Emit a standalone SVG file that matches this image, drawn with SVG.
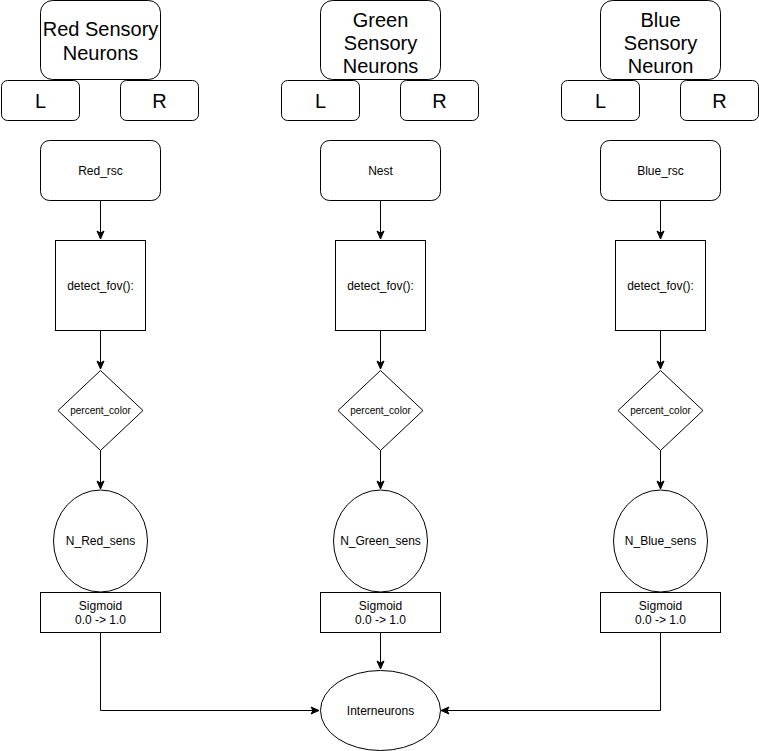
<svg xmlns="http://www.w3.org/2000/svg" width="759" height="751" viewBox="0 0 759 751">
<style>
.n{fill:#fff;stroke:#000;stroke-width:1}
.t{font-family:"Liberation Sans",Arial,sans-serif;fill:#000;text-anchor:middle}
.big{font-size:20px}
.s{font-size:12px}
.xs{font-size:10px}
.c{fill:none;stroke:#000;stroke-width:1}
</style>
<defs>
<marker id="ah" markerUnits="userSpaceOnUse" markerWidth="10" markerHeight="10" viewBox="0 0 10 10" refX="9" refY="5" orient="auto">
<path d="M1,1.5 L9,5 L1,8.5 L3,5 Z" fill="#000" stroke="#000" stroke-width="1" stroke-linejoin="miter"/>
</marker>
</defs>
<rect width="759" height="751" fill="#fff"/>
<g id="connectors">
<path class="c" d="M100.5,200 V239" marker-end="url(#ah)"/>
<path class="c" d="M100.5,330 V369" marker-end="url(#ah)"/>
<path class="c" d="M100.5,450 V489" marker-end="url(#ah)"/>
<path class="c" d="M380.5,200 V239" marker-end="url(#ah)"/>
<path class="c" d="M380.5,330 V369" marker-end="url(#ah)"/>
<path class="c" d="M380.5,450 V489" marker-end="url(#ah)"/>
<path class="c" d="M660.5,200 V239" marker-end="url(#ah)"/>
<path class="c" d="M660.5,330 V369" marker-end="url(#ah)"/>
<path class="c" d="M660.5,450 V489" marker-end="url(#ah)"/>
<path class="c" d="M100.5,632 V710.5 H319" marker-end="url(#ah)"/>
<path class="c" d="M380.5,632 V669" marker-end="url(#ah)"/>
<path class="c" d="M660.5,632 V710.5 H441" marker-end="url(#ah)"/>
</g>
<g id="red-sensory-neurons"><rect class="n" x="40.5" y="0.5" width="120" height="79" rx="12"/><text class="t big" x="100.5" y="36">Red Sensory</text><text class="t big" x="100.5" y="60">Neurons</text></g>
<g id="red-L"><rect class="n" x="1.5" y="80.5" width="78" height="40" rx="6"/><text class="t big" x="40.5" y="108">L</text></g>
<g id="red-R"><rect class="n" x="120.5" y="80.5" width="78" height="40" rx="6"/><text class="t big" x="159.5" y="108">R</text></g>
<g id="red-rsc"><rect class="n" x="40.5" y="140.5" width="120" height="60" rx="9"/><text class="t s" x="100.5" y="174.5">Red_rsc</text></g>
<g id="red-detect"><rect class="n" x="55.5" y="240.5" width="90" height="90"/><text class="t s" x="100.5" y="289.5">detect_fov():</text></g>
<g id="red-percent"><path class="n" d="M100.5,370.5 L143,410.5 L100.5,450.5 L58,410.5 Z"/><text class="t xs" x="100.5" y="414">percent_color</text></g>
<g id="red-n"><ellipse class="n" cx="100.5" cy="541" rx="47" ry="51"/><text class="t s" x="100.5" y="545">N_Red_sens</text></g>
<g id="red-sigmoid"><rect class="n" x="40.5" y="592.5" width="120" height="40"/><text class="t s" x="100.5" y="610">Sigmoid</text><text class="t s" x="100.5" y="624">0.0 -&gt; 1.0</text></g>
<g id="green-sensory-neurons"><rect class="n" x="320.5" y="0.5" width="120" height="79" rx="12"/><text class="t big" x="380.5" y="27">Green</text><text class="t big" x="380.5" y="50">Sensory</text><text class="t big" x="380.5" y="73">Neurons</text></g>
<g id="green-L"><rect class="n" x="281.5" y="80.5" width="78" height="40" rx="6"/><text class="t big" x="320.5" y="108">L</text></g>
<g id="green-R"><rect class="n" x="400.5" y="80.5" width="78" height="40" rx="6"/><text class="t big" x="439.5" y="108">R</text></g>
<g id="nest"><rect class="n" x="320.5" y="140.5" width="120" height="60" rx="9"/><text class="t s" x="380.5" y="174.5">Nest</text></g>
<g id="green-detect"><rect class="n" x="335.5" y="240.5" width="90" height="90"/><text class="t s" x="380.5" y="289.5">detect_fov():</text></g>
<g id="green-percent"><path class="n" d="M380.5,370.5 L423,410.5 L380.5,450.5 L338,410.5 Z"/><text class="t xs" x="380.5" y="414">percent_color</text></g>
<g id="green-n"><ellipse class="n" cx="380.5" cy="541" rx="47" ry="51"/><text class="t s" x="380.5" y="545">N_Green_sens</text></g>
<g id="green-sigmoid"><rect class="n" x="320.5" y="592.5" width="120" height="40"/><text class="t s" x="380.5" y="610">Sigmoid</text><text class="t s" x="380.5" y="624">0.0 -&gt; 1.0</text></g>
<g id="blue-sensory-neuron"><rect class="n" x="600.5" y="0.5" width="120" height="79" rx="12"/><text class="t big" x="660.5" y="27">Blue</text><text class="t big" x="660.5" y="50">Sensory</text><text class="t big" x="660.5" y="73">Neuron</text></g>
<g id="blue-L"><rect class="n" x="561.5" y="80.5" width="78" height="40" rx="6"/><text class="t big" x="600.5" y="108">L</text></g>
<g id="blue-R"><rect class="n" x="680.5" y="80.5" width="78" height="40" rx="6"/><text class="t big" x="719.5" y="108">R</text></g>
<g id="blue-rsc"><rect class="n" x="600.5" y="140.5" width="120" height="60" rx="9"/><text class="t s" x="660.5" y="174.5">Blue_rsc</text></g>
<g id="blue-detect"><rect class="n" x="615.5" y="240.5" width="90" height="90"/><text class="t s" x="660.5" y="289.5">detect_fov():</text></g>
<g id="blue-percent"><path class="n" d="M660.5,370.5 L703,410.5 L660.5,450.5 L618,410.5 Z"/><text class="t xs" x="660.5" y="414">percent_color</text></g>
<g id="blue-n"><ellipse class="n" cx="660.5" cy="541" rx="47" ry="51"/><text class="t s" x="660.5" y="545">N_Blue_sens</text></g>
<g id="blue-sigmoid"><rect class="n" x="600.5" y="592.5" width="120" height="40"/><text class="t s" x="660.5" y="610">Sigmoid</text><text class="t s" x="660.5" y="624">0.0 -&gt; 1.0</text></g>
<g id="interneurons"><ellipse class="n" cx="380.5" cy="710.5" rx="60" ry="40"/><text class="t s" x="380.5" y="714.5">Interneurons</text></g>
</svg>
